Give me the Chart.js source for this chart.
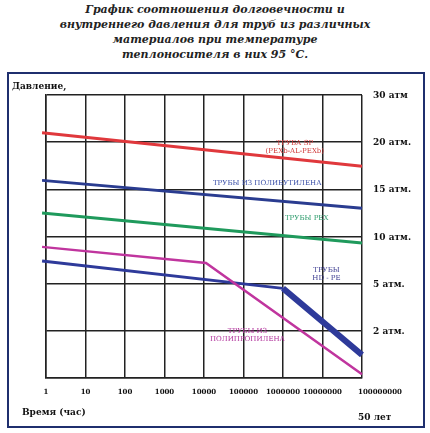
<!DOCTYPE html>
<html><head><meta charset="utf-8">
<script src="https://cdn.jsdelivr.net/npm/chart.js@4"></script>
<style>
html,body{margin:0;padding:0;background:#fff;width:430px;height:433px;overflow:hidden}
#t{position:absolute;left:0;top:2px;width:430px;text-align:center;font:italic bold 11px "DejaVu Serif",serif;line-height:15px;color:#222}
#f{position:absolute;left:7px;top:72px;width:414px;height:352px;border:2px solid #1f2f6e}
canvas{position:absolute;left:0;top:0}
</style></head><body>
<div id="t">График соотношения долговечности и<br>внутреннего давления для труб из различных<br>материалов при температуре<br>теплоносителя в них 95 °С.</div>
<div id="f"></div>
<canvas id="c" width="430" height="433"></canvas>
<script>
const timeLabels=['1','10','100','1000','10000','100000','1000000','10000000','100000000'];
const pressureLabels=['2 атм.','5 атм.','10 атм.','15 атм.','20 атм.','30 атм'];
const pressureLevels=[1,2,3,4,5,6];
const sp=[{x:-0.1,y:5.2},{x:8,y:4.49}];
const pb=[{x:-0.1,y:4.19},{x:8,y:3.6}];
const pex=[{x:-0.1,y:3.5},{x:8,y:2.86}];
const ppr=[{x:-0.1,y:2.78},{x:4.05,y:2.44},{x:8,y:0.08}];
const hdpe1=[{x:-0.1,y:2.48},{x:6,y:1.9}];
const hdpe2=[{x:6,y:1.9},{x:8,y:0.49}];
const seriesLabels=[
 {t:['ТРУБА SP','(PEXb-AL-PEXb)'],x:6.3,y:4.95,c:'#d03a3a'},
 {t:['ТРУБЫ ИЗ ПОЛИБУТИЛЕНА'],x:5.6,y:4.1,c:'#3a4fa8'},
 {t:['ТРУБЫ PEX'],x:6.6,y:3.35,c:'#2a9a6a'},
 {t:['ТРУБЫ','HD - PE'],x:7.1,y:2.25,c:'#3a3a90'},
 {t:['ТРУБЫ ИЗ','ПОЛИПРОПИЛЕНА'],x:5.1,y:0.95,c:'#b0309a'}
];
const ds=(d,c,w)=>({data:d,borderColor:c,borderWidth:w,pointRadius:0,tension:0,fill:false,clip:false});
const txt={id:'txt',afterDraw(ch){
 const g=ch.ctx,xs=ch.scales.x,ys=ch.scales.y;
 g.save();g.fillStyle='#111';g.font='bold 7px "DejaVu Serif",serif';g.textAlign='center';
 timeLabels.forEach((l,i)=>{let px=xs.getPixelForValue(i);if(i==8)px+=18;g.fillText(l,px,394);});
 g.textAlign='left';g.font='bold 9px "DejaVu Serif",serif';
 pressureLabels.forEach((l,i)=>g.fillText(l,373,ys.getPixelForValue(pressureLevels[i])+3));
 g.fillText('Давление,',12,89);
 g.fillText('Время (час)',22,415);
 g.fillText('50 лет',358,420);
 g.font='7px "DejaVu Serif",serif';g.textAlign='center';
 seriesLabels.forEach(s=>{g.fillStyle=s.c;s.t.forEach((l,k)=>g.fillText(l,xs.getPixelForValue(s.x),ys.getPixelForValue(s.y)+k*8));});
 g.restore();}};
new Chart(document.getElementById('c'),{type:'line',
 data:{datasets:[ds(sp,'#e0383c',3),ds(pb,'#2a3c90',3),ds(pex,'#1f9a5c',3),ds(ppr,'#c0359e',2.5),ds(hdpe1,'#2e3a9a',3),ds(hdpe2,'#2e3a9a',6)]},
 options:{responsive:false,animation:false,events:[],
  layout:{padding:{left:46,right:68,top:95,bottom:55}},
  plugins:{legend:{display:false},tooltip:{enabled:false}},
  scales:{
   x:{type:'linear',min:0,max:8,ticks:{display:false,stepSize:1},grid:{color:'#222',lineWidth:1.5,drawTicks:false},border:{color:'#222',width:1.5}},
   y:{type:'linear',min:0,max:6,ticks:{display:false,stepSize:1},grid:{color:'#222',lineWidth:1.5,drawTicks:false},border:{color:'#222',width:1.5}}
  }},plugins:[txt]});
</script></body></html>
